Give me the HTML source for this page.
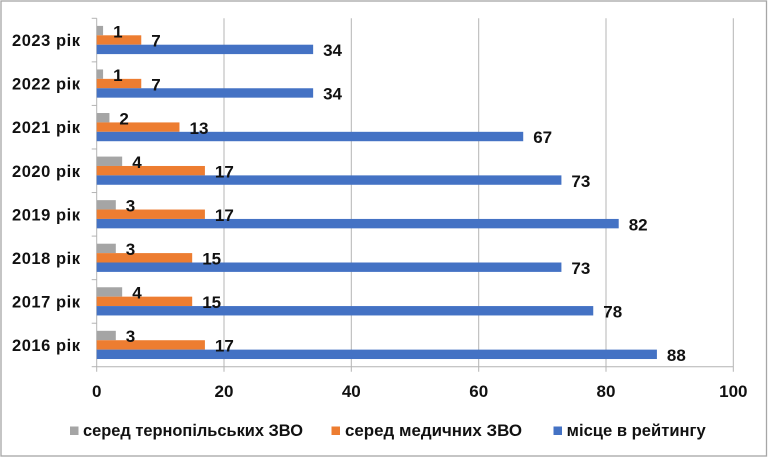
<!DOCTYPE html>
<html><head><meta charset="utf-8"><style>
html,body{margin:0;padding:0;background:#fff;}
svg{display:block;}
text{font-family:"Liberation Sans",Arial,sans-serif;font-weight:bold;fill:#111;}
</style></head><body>
<svg width="768" height="458" viewBox="0 0 768 458" xmlns="http://www.w3.org/2000/svg">
<rect x="0" y="0" width="768" height="458" fill="#fff"/>
<rect x="1" y="1" width="765.5" height="455" fill="none" stroke="#a6a6a6" stroke-width="1.3"/>
<!-- gridlines -->
<g stroke="#b4b4b4" stroke-width="1">
<line x1="224" y1="18.3" x2="224" y2="371.7"/>
<line x1="351.3" y1="18.3" x2="351.3" y2="371.7"/>
<line x1="478.7" y1="18.3" x2="478.7" y2="371.7"/>
<line x1="606" y1="18.3" x2="606" y2="371.7"/>
<line x1="733.3" y1="18.3" x2="733.3" y2="371.7"/>
<line x1="96.7" y1="18.3" x2="96.7" y2="371.7"/>
<line x1="96.7" y1="366.7" x2="733.3" y2="366.7"/>
<line x1="91.7" y1="18.3" x2="96.7" y2="18.3"/>
<line x1="91.7" y1="61.86" x2="96.7" y2="61.86"/>
<line x1="91.7" y1="105.42" x2="96.7" y2="105.42"/>
<line x1="91.7" y1="148.98" x2="96.7" y2="148.98"/>
<line x1="91.7" y1="192.54" x2="96.7" y2="192.54"/>
<line x1="91.7" y1="236.1" x2="96.7" y2="236.1"/>
<line x1="91.7" y1="279.66" x2="96.7" y2="279.66"/>
<line x1="91.7" y1="323.22" x2="96.7" y2="323.22"/>
<line x1="91.7" y1="366.7" x2="96.7" y2="366.7"/>
</g>

<!-- categories -->
<g transform="translate(0,18.3)">
<text x="80" y="27.8" font-size="16.5" text-anchor="end" textLength="68">2023 рік</text>
<rect x="96.7" y="7.6" width="6.37" height="9.4" fill="#a5a5a5"/>
<rect x="96.7" y="17" width="44.56" height="9.4" fill="#ed7d31"/>
<rect x="96.7" y="26.4" width="216.44" height="9.4" fill="#4472c4"/>
<text x="113.1" y="19" font-size="17">1</text>
<text x="151.3" y="28.4" font-size="17">7</text>
<text x="323.1" y="37.8" font-size="17">34</text>
</g>
<g transform="translate(0,61.86)">
<text x="80" y="27.8" font-size="16.5" text-anchor="end" textLength="68">2022 рік</text>
<rect x="96.7" y="7.6" width="6.37" height="9.4" fill="#a5a5a5"/>
<rect x="96.7" y="17" width="44.56" height="9.4" fill="#ed7d31"/>
<rect x="96.7" y="26.4" width="216.44" height="9.4" fill="#4472c4"/>
<text x="113.1" y="19" font-size="17">1</text>
<text x="151.3" y="28.4" font-size="17">7</text>
<text x="323.1" y="37.8" font-size="17">34</text>
</g>
<g transform="translate(0,105.42)">
<text x="80" y="27.8" font-size="16.5" text-anchor="end" textLength="68">2021 рік</text>
<rect x="96.7" y="7.6" width="12.73" height="9.4" fill="#a5a5a5"/>
<rect x="96.7" y="17" width="82.76" height="9.4" fill="#ed7d31"/>
<rect x="96.7" y="26.4" width="426.52" height="9.4" fill="#4472c4"/>
<text x="119.4" y="19" font-size="17">2</text>
<text x="189.5" y="28.4" font-size="17">13</text>
<text x="533.2" y="37.8" font-size="17">67</text>
</g>
<g transform="translate(0,148.98)">
<text x="80" y="27.8" font-size="16.5" text-anchor="end" textLength="68">2020 рік</text>
<rect x="96.7" y="7.6" width="25.46" height="9.4" fill="#a5a5a5"/>
<rect x="96.7" y="17" width="108.22" height="9.4" fill="#ed7d31"/>
<rect x="96.7" y="26.4" width="464.72" height="9.4" fill="#4472c4"/>
<text x="132.2" y="19" font-size="17">4</text>
<text x="214.9" y="28.4" font-size="17">17</text>
<text x="571.4" y="37.8" font-size="17">73</text>
</g>
<g transform="translate(0,192.54)">
<text x="80" y="27.8" font-size="16.5" text-anchor="end" textLength="68">2019 рік</text>
<rect x="96.7" y="7.6" width="19.10" height="9.4" fill="#a5a5a5"/>
<rect x="96.7" y="17" width="108.22" height="9.4" fill="#ed7d31"/>
<rect x="96.7" y="26.4" width="522.01" height="9.4" fill="#4472c4"/>
<text x="125.8" y="19" font-size="17">3</text>
<text x="214.9" y="28.4" font-size="17">17</text>
<text x="628.7" y="37.8" font-size="17">82</text>
</g>
<g transform="translate(0,236.1)">
<text x="80" y="27.8" font-size="16.5" text-anchor="end" textLength="68">2018 рік</text>
<rect x="96.7" y="7.6" width="19.10" height="9.4" fill="#a5a5a5"/>
<rect x="96.7" y="17" width="95.49" height="9.4" fill="#ed7d31"/>
<rect x="96.7" y="26.4" width="464.72" height="9.4" fill="#4472c4"/>
<text x="125.8" y="19" font-size="17">3</text>
<text x="202.2" y="28.4" font-size="17">15</text>
<text x="571.4" y="37.8" font-size="17">73</text>
</g>
<g transform="translate(0,279.66)">
<text x="80" y="27.8" font-size="16.5" text-anchor="end" textLength="68">2017 рік</text>
<rect x="96.7" y="7.6" width="25.46" height="9.4" fill="#a5a5a5"/>
<rect x="96.7" y="17" width="95.49" height="9.4" fill="#ed7d31"/>
<rect x="96.7" y="26.4" width="496.55" height="9.4" fill="#4472c4"/>
<text x="132.2" y="19" font-size="17">4</text>
<text x="202.2" y="28.4" font-size="17">15</text>
<text x="603.3" y="37.8" font-size="17">78</text>
</g>
<g transform="translate(0,323.22)">
<text x="80" y="27.8" font-size="16.5" text-anchor="end" textLength="68">2016 рік</text>
<rect x="96.7" y="7.6" width="19.10" height="9.4" fill="#a5a5a5"/>
<rect x="96.7" y="17" width="108.22" height="9.4" fill="#ed7d31"/>
<rect x="96.7" y="26.4" width="560.21" height="9.4" fill="#4472c4"/>
<text x="125.8" y="19" font-size="17">3</text>
<text x="214.9" y="28.4" font-size="17">17</text>
<text x="666.9" y="37.8" font-size="17">88</text>
</g>

<!-- x tick labels -->
<g font-size="17" text-anchor="middle">
<text x="96.7" y="396.8">0</text>
<text x="224" y="396.8">20</text>
<text x="351.3" y="396.8">40</text>
<text x="478.7" y="396.8">60</text>
<text x="606" y="396.8">80</text>
<text x="733.3" y="396.8">100</text>
</g>

<!-- legend -->
<rect x="70" y="426.5" width="8.5" height="8.5" fill="#a5a5a5"/>
<text x="83" y="436" font-size="16.5" textLength="220" lengthAdjust="spacingAndGlyphs">серед тернопільських ЗВО</text>
<rect x="331.5" y="426.5" width="8.5" height="8.5" fill="#ed7d31"/>
<text x="345" y="436" font-size="16.5" textLength="177" lengthAdjust="spacingAndGlyphs">серед медичних ЗВО</text>
<rect x="553.5" y="426.5" width="8.5" height="8.5" fill="#4472c4"/>
<text x="566.7" y="436" font-size="16.5" textLength="139" lengthAdjust="spacingAndGlyphs">місце в рейтингу</text>
</svg>
</body></html>
